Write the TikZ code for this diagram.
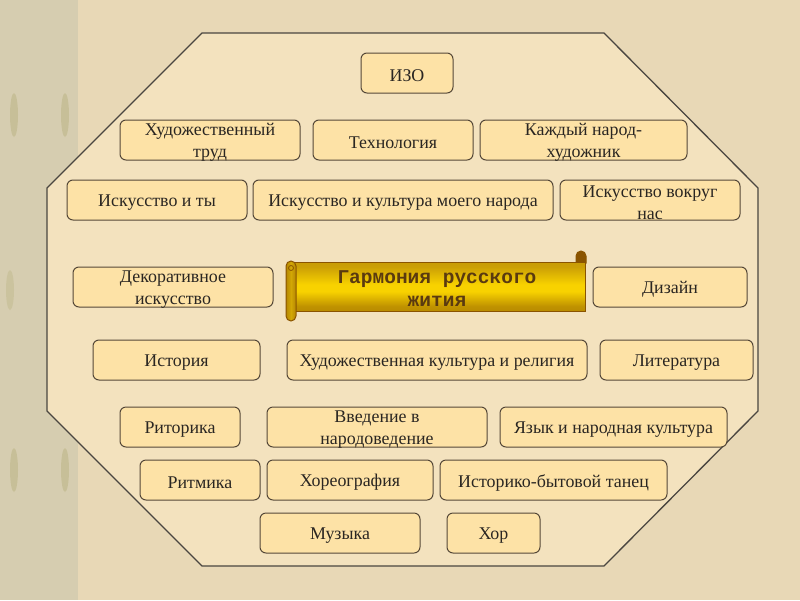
\documentclass[tikz,border=0pt]{standalone}
\usepackage{fontspec}
\setmainfont{Liberation Serif}
\newfontfamily\scrollfont{Liberation Mono}
\definecolor{bgc}{HTML}{E8D8B6}
\definecolor{stripc}{HTML}{D6CDB0}
\definecolor{octfill}{HTML}{F3E2BE}
\definecolor{octline}{HTML}{4A4640}
\definecolor{boxfill}{HTML}{FDE2A6}
\definecolor{boxline}{HTML}{554838}
\definecolor{txtc}{HTML}{2A2622}
\definecolor{goldtop}{HTML}{B88A08}
\definecolor{goldmid}{HTML}{F8D200}
\definecolor{goldbot}{HTML}{9A6800}
\definecolor{rollc}{HTML}{8A5400}
\definecolor{scrolltxt}{HTML}{5A3A10}
\pgfdeclareverticalshading{scrollshade}{100bp}{color(0bp)=(goldbot); color(30bp)=(goldbot!60!goldmid); color(45bp)=(goldmid); color(52bp)=(goldmid); color(70bp)=(goldtop!70!goldmid); color(100bp)=(goldtop)}
\pgfdeclarehorizontalshading{rollshade}{100bp}{color(0bp)=(goldbot); color(50bp)=(goldtop!60!goldmid); color(100bp)=(goldbot)}
\begin{document}
\begin{tikzpicture}[x=1pt,y=-1pt,
  boxst/.style={draw=boxline, line width=1pt, fill=boxfill, rounded corners=6pt, inner sep=0pt},
  txtst/.style={text=txtc, align=center, inner sep=0pt, yshift=-2.5pt, font=\fontsize{17.9}{21.5}\selectfont},
  scrolltext/.style={text=scrolltxt, align=center, inner sep=0pt, yshift=-2pt, font=\scrollfont\bfseries\fontsize{19.5}{23}\selectfont}]
\useasboundingbox (0,0) rectangle (800,600);
% background
\fill[bgc] (0,0) rectangle (800,600);
\fill[stripc] (0,0) rectangle (78,600);
\foreach \yy in {115,470}{
  \fill[olive!60!gray, opacity=0.2] (14,\yy) ellipse (4pt and 22pt);
  \fill[olive!60!gray, opacity=0.2] (65,\yy) ellipse (4pt and 22pt);
}
\fill[olive!60!gray, opacity=0.15] (10,290) ellipse (4pt and 20pt);
% octagon
\coordinate (o1) at (202,33);
\coordinate (o2) at (604,33);
\coordinate (o3) at (758,188);
\coordinate (o4) at (758,411);
\coordinate (o5) at (604,566);
\coordinate (o6) at (202,566);
\coordinate (o7) at (47,411);
\coordinate (o8) at (47,188);
\draw[octline, line width=1.3pt, fill=octfill] (o1) -- (o2) -- (o3) -- (o4) -- (o5) -- (o6) -- (o7) -- (o8) -- cycle;
% boxes: name, center, width, height, text
\newcommand{\mybox}[5]{%
  \node[boxst, minimum width=#3, minimum height=#4] (#1) at (#2) {};
  \node[txtst] (#1t) at (#1) {#5};}
\mybox{izo}{407,73}{92pt}{40pt}{ИЗО}
\mybox{trud}{210,140}{180pt}{40pt}{Художественный\\труд}
\mybox{tech}{393,140}{160pt}{40pt}{Технология}
\mybox{kazh}{583.5,140}{207pt}{40pt}{Каждый народ-\\художник}
\mybox{ity}{157,200}{180pt}{40pt}{Искусство и ты}
\mybox{iikul}{403,200}{300pt}{40pt}{Искусство и культура моего народа}
\mybox{vokr}{650,200}{180pt}{40pt}{Искусство вокруг\\нас}
\mybox{dek}{173,287}{200pt}{40pt}{Декоративное\\искусство}
\mybox{diz}{670,287}{154pt}{40pt}{Дизайн}
\mybox{ist}{176.5,360}{167pt}{40pt}{История}
\mybox{hkr}{437,360}{300pt}{40pt}{Художественная культура и религия}
\mybox{lit}{676.5,360}{153pt}{40pt}{Литература}
\mybox{rit}{180,427}{120pt}{40pt}{Риторика}
\mybox{vved}{377,427}{220pt}{40pt}{Введение в\\народоведение}
\mybox{yaz}{613.5,427}{227pt}{40pt}{Язык и народная культура}
\mybox{ritm}{200,480}{120pt}{40pt}{Ритмика}
\mybox{hor}{350,480}{166pt}{40pt}{Хореография}
\mybox{istb}{553.5,480}{227pt}{40pt}{Историко-бытовой танец}
\mybox{muz}{340,533}{160pt}{40pt}{Музыка}
\mybox{hr}{493.5,533}{93pt}{40pt}{Хор}
% scroll
\draw[rollc, line width=1pt, fill=rollc] (576,263) -- (576,256) arc[start angle=180, end angle=0, radius=5pt] -- (586,263) -- cycle;
\path[shading=scrollshade, draw=rollc, line width=1pt]
  (290,262) -- (585,262) -- (585,311) -- (290,311) -- cycle;
\path[shading=rollshade, draw=rollc, line width=1pt]
  (286,266) arc[start angle=180, end angle=0, radius=5pt] -- (296,316) arc[start angle=0, end angle=-180, radius=5pt] -- cycle;
\draw[rollc, line width=0.8pt] (291,268) circle (2.5pt);
\node[scrolltext] (scroll) at (437,287) {Гармония русского\\жития};
\end{tikzpicture}
\end{document}
